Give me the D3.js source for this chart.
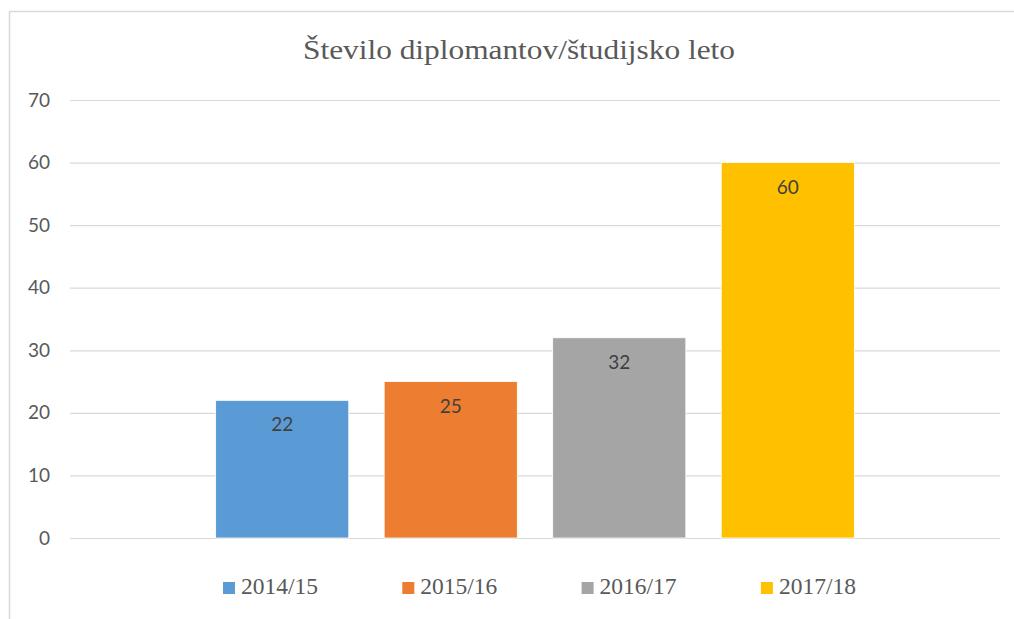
<!DOCTYPE html>
<html>
<head>
<meta charset="utf-8">
<script src="https://cdn.jsdelivr.net/npm/d3@7"></script>
<style>
  body { margin: 0; background: #fff; }
  svg { display: block; }
</style>
</head>
<body>
<svg id="chart" width="1014" height="619"></svg>
<script>
// Število diplomantov po študijskih letih

var title = "Število diplomantov/študijsko leto";
var seriesNames = ["2014/15", "2015/16", "2016/17", "2017/18"];
var seriesValues = [22, 25, 32, 60];
var seriesColors = ["#5B9BD5", "#ED7D31", "#A5A5A5", "#FFC000"];
var yTicks = [0, 10, 20, 30, 40, 50, 60, 70];

var svg = d3.select("#chart");
var plot = { left: 70, right: 1000, top: 100, bottom: 538 };

// chart frame
svg.append("rect")
  .attr("x", 9.5).attr("y", 11.5)
  .attr("width", 1030).attr("height", 640)
  .attr("fill", "none")
  .attr("stroke", "#D9D9D9")
  .attr("stroke-width", 1.5);

svg.append("text")
  .attr("x", 303).attr("y", 59)
  .attr("font-family", "'Liberation Serif', serif")
  .attr("font-size", 28)
  .attr("textLength", 432)
  .attr("lengthAdjust", "spacingAndGlyphs")
  .attr("fill", "#595959")
  .text(title);

var y = d3.scaleLinear().domain([0, 70]).range([plot.bottom, plot.top]);

var x0 = d3.scaleBand().domain(["all"])
  .range([plot.left, plot.right])
  .paddingOuter(0.228);

var x1 = d3.scaleBand().domain(seriesNames)
  .range([x0("all"), x0("all") + x0.bandwidth()])
  .paddingInner(0.21).paddingOuter(0);

// gridlines + y labels
var yAxis = d3.axisLeft(y).tickValues(yTicks)
  .tickSize(-(plot.right - plot.left)).tickPadding(20);

var gy = svg.append("g")
  .attr("transform", "translate(" + plot.left + ",0)")
  .call(yAxis);
gy.select(".domain").remove();
gy.selectAll(".tick line").attr("stroke", "#D9D9D9").attr("stroke-width", 1.2);
gy.selectAll(".tick text")
  .attr("fill", "#595959")
  .attr("font-family", "Lato, sans-serif")
  .attr("font-size", 19);

// bars
svg.append("g").selectAll("rect")
  .data(seriesNames)
  .join("rect")
  .attr("x", function (d) { return x1(d); })
  .attr("y", function (d, i) { return y(seriesValues[i]); })
  .attr("width", x1.bandwidth())
  .attr("height", function (d, i) { return y(0) - y(seriesValues[i]); })
  .attr("fill", function (d, i) { return seriesColors[i]; })
  .attr("stroke", "#fff")
  .attr("stroke-width", 0.8);

// data labels
svg.append("g").selectAll("text")
  .data(seriesNames)
  .join("text")
  .attr("x", function (d) { return x1(d) + x1.bandwidth() / 2; })
  .attr("y", function (d, i) { return y(seriesValues[i]) + 31; })
  .attr("text-anchor", "middle")
  .attr("font-family", "Lato, sans-serif")
  .attr("font-size", 19)
  .attr("fill", "#404040")
  .text(function (d, i) { return seriesValues[i]; });

// legend
var legend = svg.append("g").selectAll("g")
  .data(seriesNames)
  .join("g")
  .attr("transform", function (d, i) { return "translate(" + (223 + i * 179.3) + ",582)"; });

legend.append("rect")
  .attr("width", 12).attr("height", 12)
  .attr("fill", function (d, i) { return seriesColors[i]; });

legend.append("text")
  .attr("x", 18).attr("y", 12)
  .attr("font-family", "'Liberation Serif', serif")
  .attr("font-size", 23)
  .attr("textLength", 77)
  .attr("lengthAdjust", "spacingAndGlyphs")
  .attr("fill", "#595959")
  .text(function (d) { return d; });
</script>
</body>
</html>
